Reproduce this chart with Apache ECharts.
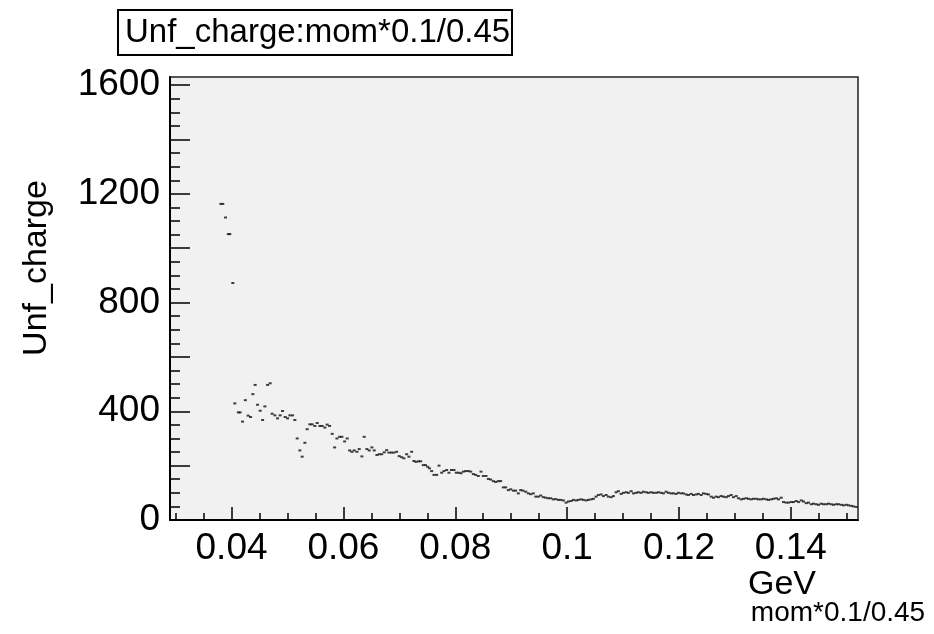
<!DOCTYPE html>
<html>
<head>
<meta charset="utf-8">
<script src="https://cdn.jsdelivr.net/npm/echarts@6/dist/echarts.min.js"></script>
<style>
html,body{margin:0;padding:0;background:#fff;}
#c{width:934px;height:634px;}
</style>
</head>
<body>
<div id="c"></div>
<script>
// ---- data ----
const titleText = 'Unf_charge:mom*0.1/0.45';
const yTitle = 'Unf_charge';
const xUnit = 'GeV';
const xTitle = 'mom*0.1/0.45';
const xMajor = [0.04, 0.06, 0.08, 0.1, 0.12, 0.14];
const xMinor = [0.03, 0.035, 0.045, 0.05, 0.055, 0.065, 0.07, 0.075, 0.085, 0.09, 0.095, 0.105, 0.11, 0.115, 0.125, 0.13, 0.135, 0.145, 0.15];
const yLabels = [0, 400, 800, 1200, 1600];
const yMajor = [0, 200, 400, 600, 800, 1000, 1200, 1400, 1600];
const yMinor = [50,100,150,250,300,350,450,500,550,650,700,750,850,900,950,1050,1100,1150,1250,1300,1350,1450,1500,1550];

const xs = [0.03809,0.03844,0.03893,0.03943,0.0397,0.04023,0.04059,0.04122,0.04154,0.04197,0.04247,0.04297,0.0434,0.04381,0.04422,0.04465,0.04512,0.04555,0.04596,0.04644,0.04691,0.04726,0.04775,0.04823,0.04869,0.04912,0.04959,0.05002,0.05043,0.05091,0.05132,0.05174,0.05222,0.05263,0.05311,0.05352,0.05401,0.05442,0.0549,0.05531,0.0558,0.05621,0.05669,0.0571,0.05753,0.058,0.05843,0.05884,0.05932,0.05973,0.06022,0.06068,0.06111,0.06152,0.06193,0.06242,0.06283,0.06331,0.06372,0.0642,0.06462,0.0651,0.06551,0.06599,
0.06641,0.06684,0.0673,0.06773,0.06814,0.06859,0.06903,0.06952,0.06998,0.07041,0.07082,0.07131,0.07172,0.0722,0.07261,0.07297,0.07342,0.07381,0.07428,0.07467,0.07506,0.07539,0.07578,0.07619,0.07667,0.07709,0.07757,0.07798,0.07846,0.07887,0.07932,0.07977,0.08018,0.08061,0.08102,0.08143,0.08186,0.08233,0.08276,0.08322,0.08365,0.08412,0.0846,0.08501,0.08549,0.08591,0.08633,0.0868,0.08723,0.0877,0.08812,0.08859,0.08902,0.08948,0.08991,0.09038,0.0908,0.09127,0.0917,0.09211,0.0926,0.09306,0.09349,0.09396,0.09439,0.09485,0.09528,0.09574,0.09617,0.09664,0.09707,0.09753,0.09796,0.09843,0.09886,0.09932,0.09981,0.10022,0.1007,0.10111,0.1016,0.10201,0.10249,0.1029,0.10339,0.1038,0.10428,0.10469,0.10517,0.10558,0.10607,0.10648,0.10696,0.10737,0.10786,0.10827,0.10875,0.10916,0.10965,0.11006,0.11054,0.11095,0.11144,0.11185,0.11233,0.11274,0.11322,0.11363,0.11412,0.11453,0.11501,0.11542,0.11591,0.11632,0.1168,0.11721,0.11769,0.1181,0.11859,0.119,0.11948,0.11989,0.12038,0.12079,0.12127,0.12168,0.12217,0.12258,0.12306,0.12347,0.12396,0.12437,0.12485,0.12526,0.12575,0.12616,0.12664,0.12705,0.12753,0.12795,0.12843,0.12884,0.12932,0.12973,0.13022,0.13063,0.13111,0.13152,0.13201,0.13242,0.1329,0.13331,0.1338,0.13421,0.13469,0.1351,0.13559,0.136,0.13648,0.13689,0.13738,0.13779,0.13827,0.13868,0.13916,0.13958,0.14006,0.14047,0.14095,0.14137,0.14185,0.14226,0.14274,0.14315,0.14364,0.14405,0.14453,0.14494,0.14543,0.14584,0.14632,0.14673,0.14722,0.14763,0.14811,0.14852,0.14901,0.14942,0.1499,0.15031,0.15079,0.1512,0.15169];

const ys = [1163,1163,1113,1052,1052,872,429,396,396,362,441,384,379,463,497,424,402,368,418,497,503,391,385,374,385,401,379,374,385,385,368,300,256,233,284,334,352,352,346,357,346,346,340,351,346,317,267,300,306,306,289,300,256,251,256,251,261,234,306,261,256,267,256,239,
242,242,249,257,248,248,248,251,235,231,
227,242,233,251,217,214,216,216,202,202,
196,190,180,166,166,200,174,180,184,174,
184,184,174,174,172,178,180,180,178,169,
166,162,178,162,162,151,149,143,140,143,
143,120,120,110,113,108,108,98,110,108,
104,98,95,98,86,86,90,84,82,80,
80,76,77,74,74,72,64,68,70,74,
72,74,76,74,72,74,76,78,86,92,
94,88,92,86,84,88,102,106,96,100,
102,100,106,98,100,102,100,104,102,100,
102,100,100,102,100,98,104,100,98,98,
96,100,98,98,94,92,96,92,94,96,
92,98,96,94,86,82,86,84,88,86,
84,88,92,84,88,80,76,78,80,78,
76,78,78,76,76,78,76,74,76,78,
80,76,82,66,64,64,66,66,70,66,
72,68,62,64,58,60,58,56,60,58,
58,60,58,56,58,58,56,54,56,54,
52,50,48];

const X_MIN = 0.029, X_MAX = 0.152, Y_MIN = 0, Y_MAX = 1630;

const n = Math.min(xs.length, ys.length);
const points = [];
for (let i = 0; i < n; i++) points.push([xs[i], ys[i]]);

const FONT = '"Liberation Sans", Arial, Helvetica, sans-serif';
const gridPos = {left: 170, top: 77, right: 76, bottom: 114};

const chart = echarts.init(document.getElementById('c'), null, {renderer: 'canvas'});
chart.setOption({
  animation: false,
  backgroundColor: '#ffffff',
  grid: [
    Object.assign({show: true, backgroundColor: '#f1f1f1', borderColor: '#222', borderWidth: 1.5, containLabel: false}, gridPos),
    Object.assign({show: false, containLabel: false}, gridPos)
  ],
  xAxis: [
    {
      type: 'value', gridIndex: 0, min: X_MIN, max: X_MAX, position: 'bottom',
      axisLine: {show: true, onZero: false, lineStyle: {color: '#000', width: 2}},
      axisTick: {show: true, inside: true, length: 13, customValues: xMajor, lineStyle: {color: '#000', width: 1.5}},
      axisLabel: {show: true, customValues: xMajor, color: '#000', fontSize: 37, fontFamily: FONT, margin: 10,
        formatter: v => String(v)},
      splitLine: {show: false}
    },
    {
      type: 'value', gridIndex: 1, min: X_MIN, max: X_MAX, position: 'bottom',
      axisLine: {show: false, onZero: false},
      axisTick: {show: true, inside: true, length: 7, customValues: xMinor, lineStyle: {color: '#000', width: 1.5}},
      axisLabel: {show: false},
      splitLine: {show: false}
    }
  ],
  yAxis: [
    {
      type: 'value', gridIndex: 0, min: Y_MIN, max: Y_MAX, position: 'left',
      axisLine: {show: true, onZero: false, lineStyle: {color: '#000', width: 2}},
      axisTick: {show: true, inside: true, length: 20, customValues: yMajor, lineStyle: {color: '#000', width: 1.5}},
      axisLabel: {show: true, customValues: yLabels, color: '#000', fontSize: 37, fontFamily: FONT, margin: 10,
        formatter: v => String(v)},
      splitLine: {show: false}
    },
    {
      type: 'value', gridIndex: 1, min: Y_MIN, max: Y_MAX, position: 'left',
      axisLine: {show: false, onZero: false},
      axisTick: {show: true, inside: true, length: 10, customValues: yMinor, lineStyle: {color: '#000', width: 1.5}},
      axisLabel: {show: false},
      splitLine: {show: false}
    }
  ],
  series: [{
    type: 'scatter', xAxisIndex: 0, yAxisIndex: 0,
    data: points,
    symbol: 'rect', symbolSize: [3, 2],
    itemStyle: {color: '#111'},
    silent: true
  }],
  graphic: [
    {type: 'rect', shape: {x: 118, y: 10, width: 394, height: 45},
     style: {fill: '#fff', stroke: '#000', lineWidth: 2}},
    {type: 'text', x: 125, y: 33,
     style: {text: titleText, font: '33px ' + FONT, fill: '#000', textAlign: 'left', textVerticalAlign: 'middle'}},
    {type: 'text', x: 37, y: 268, rotation: Math.PI / 2,
     style: {text: yTitle, font: '34px ' + FONT, fill: '#000', textAlign: 'center', textVerticalAlign: 'middle'}},
    {type: 'text', x: 782, y: 585,
     style: {text: xUnit, font: '34px ' + FONT, fill: '#000', textAlign: 'center', textVerticalAlign: 'middle'}},
    {type: 'text', x: 838, y: 613,
     style: {text: xTitle, font: '28px ' + FONT, fill: '#000', textAlign: 'center', textVerticalAlign: 'middle'}}
  ]
});
</script>
</body>
</html>
